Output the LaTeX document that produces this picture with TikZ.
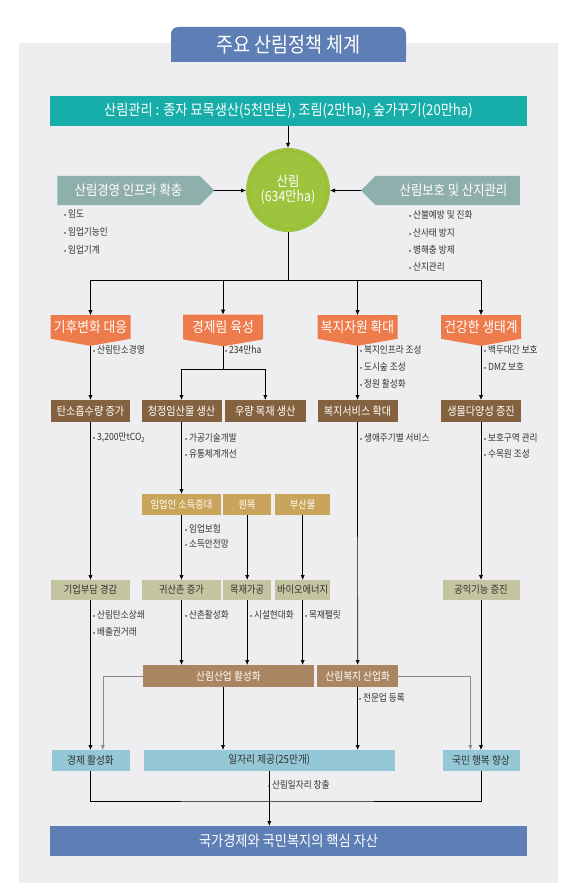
\documentclass[tikz,border=0pt]{standalone}
\usepackage{fontspec}
\setmainfont{Noto Sans CJK KR}[FakeStretch=0.88]
\usetikzlibrary{arrows.meta,shapes.symbols}
\definecolor{panel}{HTML}{EEEEF0}
\definecolor{navy}{HTML}{5E7FB6}
\definecolor{tealbar}{HTML}{17ADA9}
\definecolor{slate}{HTML}{8FAFAD}
\definecolor{leaf}{HTML}{9DC43C}
\definecolor{leafdot}{HTML}{7FA52C}
\definecolor{orng}{HTML}{EE7B4B}
\definecolor{bark}{HTML}{85623F}
\definecolor{ochre}{HTML}{C9A45B}
\definecolor{khaki}{HTML}{C4C5A0}
\definecolor{tanbrown}{HTML}{A98661}
\definecolor{sky}{HTML}{95C8D6}
\definecolor{ink}{HTML}{333333}
\definecolor{wire}{HTML}{8A8A8A}
\newcommand\fsz[1]{\fontsize{#1}{#1}\selectfont}
\newcommand\bul{{\fsz{7}•}\hspace{2pt}}
\tikzset{
  every node/.style={inner sep=0pt, outer sep=0pt},
  arr/.style={draw=black, line width=0.7pt, -{Latex[length=5pt,width=4.2pt]}},
  garr/.style={arr, draw=wire, line width=0.6pt},
  link/.style={draw=black, line width=0.7pt},
  note/.style={anchor=west, text=ink, font=\fsz{9.8}},
  greysig/.style={signal, fill=slate, text=white, minimum height=29pt, font=\fsz{14}, signal pointer angle=90},
  orgsig/.style={signal, signal to=south, signal pointer angle=160, fill=orng, text=white, minimum width=80pt, minimum height=30pt, font=\fsz{14.5}},
  barkbox/.style={fill=bark, text=white, minimum height=22pt, font=\fsz{11.5}},
  ochrebox/.style={fill=ochre, text=white, minimum height=21pt, font=\fsz{10.5}},
  khakibox/.style={fill=khaki, text=ink, minimum height=20pt, font=\fsz{10.5}},
  tanbox/.style={fill=tanbrown, text=white, minimum height=22pt, font=\fsz{11}},
  skybox/.style={fill=sky, text=ink, minimum height=21pt, font=\fsz{11}},
}
\begin{document}
\begin{tikzpicture}[x=1pt,y=-1pt]
\useasboundingbox (0,0) rectangle (577,896);
\fill[panel] (19,43) rectangle (558,883);
\fill[navy] (171,45) rectangle (406,62);
\node[fill=navy,rounded corners=7pt,minimum width=235pt,minimum height=35pt,text=white,font=\fsz{21}] (title) at (288.5,44.5) {주요 산림정책 체계};

% top
\node[fill=tealbar,text=white,minimum width=477pt,minimum height=30pt,font=\fsz{15}] (mgmt) at (288.5,111) {산림관리 : 종자 묘목생산(5천만본), 조림(2만ha), 숲가꾸기(20만ha)};
\node[circle,fill=leaf,minimum size=84pt,text=white,align=center,font=\fsz{14}] (sanrim) at (288,190) {산림\\[1pt](634만ha)};
\draw[leafdot,densely dotted,line width=0.5pt] (sanrim.center) circle (39);
\node[greysig,signal to=east,minimum width=157pt] (infra) at (128.5,190.5) {산림경영 인프라 확충};
\node[greysig,signal to=west,minimum width=159pt] (boho) at (447.5,190.5) {\hspace{12pt}산림보호 및 산지관리};
\node[note] (n1) at (64,214) {\bul 임도};
\node[note] (n2) at (64,232) {\bul 임업기능인};
\node[note] (n3) at (64,250) {\bul 임업기계};
\node[note] (n4) at (409,215) {\bul 산불예방 및 진화};
\node[note] (n5) at (409,232.5) {\bul 산사태 방지};
\node[note] (n6) at (409,250) {\bul 병해충 방제};
\node[note] (n7) at (409,267) {\bul 산지관리};

% four policy lines
\node[orgsig] (gihu) at (90.5,327) {기후변화 대응};
\node[orgsig] (gyeongje) at (223,327) {경제림 육성};
\node[orgsig] (bokji) at (357.5,327) {복지자원 확대};
\node[orgsig] (gangang) at (481,327) {건강한 생태계};
\node[note] (n8) at (93,350) {\bul 산림탄소경영};
\node[note] (n9) at (225,350) {\bul 234만ha};
\node[note] (n10) at (360,350) {\bul 복지인프라 조성};
\node[note] (n11) at (360,367) {\bul 도시숲 조성};
\node[note] (n12) at (360,383.5) {\bul 정원 활성화};
\node[note] (n13) at (484,350) {\bul 백두대간 보호};
\node[note] (n14) at (484,367) {\bul DMZ 보호};

\node[barkbox,minimum width=79pt] (tansu) at (90.5,411) {탄소흡수량 증가};
\node[barkbox,minimum width=80pt] (cheongjeong) at (181.5,411) {청정임산물 생산};
\node[barkbox,minimum width=81.5pt] (uryang) at (265.3,411) {우량 목재 생산};
\node[barkbox,minimum width=80pt] (bokjisvc) at (357.5,411) {복지서비스 확대};
\node[barkbox,minimum width=80pt] (saengmul) at (481,411) {생물다양성 증진};
\node[note] (n15) at (93,437.5) {\bul 3,200만tCO\textsubscript{2}};
\node[note] (n16) at (185,437.5) {\bul 가공기술개발};
\node[note] (n17) at (185,454) {\bul 유통체계개선};
\node[note] (n18) at (360,437.5) {\bul 생애주기별 서비스};
\node[note] (n19) at (484,437.5) {\bul 보호구역 관리};
\node[note] (n20) at (484,454) {\bul 수목원 조성};

\node[ochrebox,minimum width=79pt] (imup) at (181.5,504.5) {임업인 소득증대};
\node[ochrebox,minimum width=47.6pt] (wonmok) at (247.2,504.5) {원목};
\node[ochrebox,minimum width=54.5pt] (busan) at (302.7,504.5) {부산물};
\node[note] (n21) at (185,528.3) {\bul 임업보험};
\node[note] (n22) at (185,544.3) {\bul 소득안전망};

\node[khakibox,minimum width=79pt] (gieop) at (90.5,590) {기업부담 경감};
\node[khakibox,minimum width=79pt] (gwisan) at (181.5,590) {귀산촌 증가};
\node[khakibox,minimum width=47.6pt] (mokjae) at (247.2,590) {목재가공};
\node[khakibox,minimum width=54.5pt] (bio) at (302.7,590) {바이오에너지};
\node[khakibox,minimum width=77pt] (gongik) at (481,590) {공익기능 증진};
\node[note] (n23) at (93,615) {\bul 산림탄소상쇄};
\node[note] (n24) at (93,631.7) {\bul 배출권거래};
\node[note] (n25) at (185,615) {\bul 산촌활성화};
\node[note] (n26) at (250,615) {\bul 시설현대화};
\node[note] (n27) at (305,615) {\bul 목재펠릿};

\node[tanbox,minimum width=171pt] (sanup) at (228.5,676) {산림산업 활성화};
\node[tanbox,minimum width=80.7pt] (sbokji) at (357.7,676) {산림복지 산업화};
\node[note] (n28) at (359,698.3) {\bul 전문업 등록};

\node[skybox,minimum width=78pt] (econ) at (90.5,760.5) {경제 활성화};
\node[skybox,minimum width=251.5pt] (jobs) at (269.3,760.5) {일자리 제공(25만개)};
\node[skybox,minimum width=77pt] (happy) at (481,760.5) {국민 행복 향상};
\node[note] (n29) at (268,785) {\bul 산림일자리 창출};

\node[fill=navy,text=white,minimum width=477pt,minimum height=30pt,font=\fsz{15}] (asset) at (288.5,841) {국가경제와 국민복지의 핵심 자산};

\coordinate (msplit) at (288,280);
\coordinate (gsplit) at (223,369);
\coordinate (mg) at (269,801);

% connectors
\draw[arr] (mgmt.south -| sanrim.north) -- (sanrim.north);
\draw[arr] (infra.east) -- (infra.east -| sanrim.west);
\draw[arr] (boho.west) -- (boho.west -| sanrim.east);
\draw[link] (sanrim.south) -- (msplit);
\draw[arr] (msplit) -| (gihu.north);
\draw[arr] (msplit) -| (gyeongje.north);
\draw[arr] (msplit) -| (bokji.north);
\draw[arr] (msplit) -| (gangang.north);
\draw[link] (gyeongje.south) -- (gsplit);
\draw[arr] (gsplit) -| (cheongjeong.north);
\draw[arr] (gsplit) -| (uryang.north);
\draw[arr] (gihu.south) -- (tansu.north);
\draw[arr] (tansu.south) -- (gieop.north);
\draw[arr] (gieop.south) -- (econ.north);
\draw[arr] (cheongjeong.south) -- (imup.north);
\draw[arr] (imup.south) -- (gwisan.north);
\draw[arr] (gwisan.south) -- (gwisan.south |- sanup.north);
\draw[arr] (wonmok.south) -- (mokjae.north);
\draw[arr] (mokjae.south) -- (mokjae.south |- sanup.north);
\draw[arr] (busan.south) -- (bio.north);
\draw[arr] (bio.south) -- (bio.south |- sanup.north);
\draw[arr] (bokji.south) -- (bokjisvc.north);
\draw[arr] (bokjisvc.south) -- (sbokji.north);
\draw[arr] (sbokji.south) -- (sbokji.south |- jobs.north);
\draw[arr] (gyeongje.south |- sanup.south) -- (gyeongje.south |- jobs.north);
\draw[arr] (gangang.south) -- (saengmul.north);
\draw[arr] (saengmul.south) -- (gongik.north);
\draw[arr] (gongik.south) -- (happy.north);
\draw[garr] (sanup.west) -| ([xshift=12.3pt]econ.north);
\draw[garr] (sbokji.east) -| ([xshift=-10.6pt]happy.north);
\draw[link] (econ.south) |- (mg) -| (happy.south);
\draw[arr] (jobs.south) -- (jobs.south |- asset.north);
\end{tikzpicture}
\end{document}
